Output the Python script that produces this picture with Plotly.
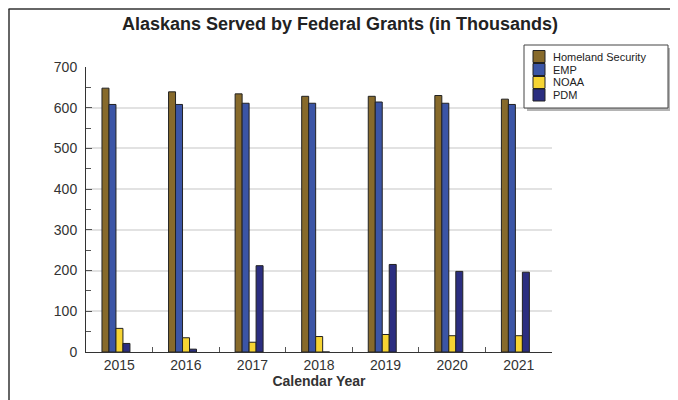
import plotly.graph_objects as go

years = ["2015", "2016", "2017", "2018", "2019", "2020", "2021"]
homeland_security = [648, 639, 634, 628, 628, 630, 621]
emp = [608, 608, 611, 611, 614, 611, 608]
noaa = [58, 35, 24, 38, 43, 40, 40]
pdm = [21, 7, 212, 0, 215, 198, 196]

series_names = ["Homeland Security", "EMP", "NOAA", "PDM"]
series_values = [homeland_security, emp, noaa, pdm]
series_colors = ["#876a2b", "#3b55a6", "#f6d433", "#2b2e80"]

BAR_W = 0.105
fig = go.Figure()
for i, (name, vals, col) in enumerate(zip(series_names, series_values, series_colors)):
    fig.add_trace(go.Bar(
        x=years, y=vals, name=name,
        width=BAR_W, offset=-0.26 + i * BAR_W,
        marker=dict(color=col, line=dict(color="#222222", width=1)),
    ))

# page has an 8px body margin, so the figure is 670x392 placed at (8,8)
W, H = 670, 392
L, R, T, B = 78, 126, 59, 48
pw, ph = W - L - R, H - T - B


def px(xpage):
    return (xpage - 8 - L) / pw


def py(ypage):
    return (H - B - (ypage - 8)) / ph


shapes = [
    # image frame (top and left edges)
    dict(type="line", xref="paper", yref="paper",
         x0=px(8.5), x1=px(678), y0=py(9), y1=py(9),
         line=dict(color="#333333", width=1.5)),
    dict(type="line", xref="paper", yref="paper",
         x0=px(9), x1=px(9), y0=py(9), y1=py(400),
         line=dict(color="#333333", width=1.5)),
    # legend shadow and box
    dict(type="rect", xref="paper", yref="paper",
         x0=px(527), x1=px(671), y0=py(111), y1=py(48),
         fillcolor="#b4b4b4", line=dict(width=0)),
    dict(type="rect", xref="paper", yref="paper",
         x0=px(524), x1=px(668), y0=py(108), y1=py(45),
         fillcolor="white", line=dict(color="#444444", width=1)),
]
annotations = []
row_centers = [56.5, 69.5, 82.5, 95.0]
for name, col, yc in zip(series_names, series_colors, row_centers):
    shapes.append(dict(type="rect", xref="paper", yref="paper",
                       x0=px(533), x1=px(545), y0=py(yc + 6), y1=py(yc - 6),
                       fillcolor=col, line=dict(color="#222222", width=1)))
    annotations.append(dict(xref="paper", yref="paper", x=px(552), y=py(yc),
                            xanchor="left", yanchor="middle", showarrow=False,
                            borderpad=0,
                            text=name, font=dict(size=11, color="#222222")))

fig.update_layout(
    width=W, height=H,
    margin=dict(l=L, r=R, t=T, b=B, autoexpand=False),
    paper_bgcolor="white", plot_bgcolor="white",
    font=dict(family="Liberation Sans, Arial, sans-serif", color="#333333", size=13),
    title=dict(text="<b>Alaskans Served by Federal Grants (in Thousands)</b>",
               x=(340 - 8) / W, xref="container", xanchor="center",
               y=1 - (24 - 8) / H, yref="container", yanchor="middle",
               font=dict(size=18, color="#222222")),
    barmode="overlay",
    showlegend=False,
    shapes=shapes,
    annotations=annotations,
    xaxis=dict(
        showline=True, linecolor="#333333", linewidth=1,
        ticks="inside", tickson="boundaries", ticklen=5, tickcolor="#555555",
        showgrid=False,
        title=dict(text="<b>Calendar Year</b>", font=dict(size=14, color="#333333"), standoff=4),
        tickfont=dict(size=14, color="#333333"),
    ),
    yaxis=dict(
        range=[0, 700], dtick=100,
        showline=True, linecolor="#333333", linewidth=1,
        ticks="inside", ticklen=6, tickcolor="#555555",
        showgrid=True, gridcolor="#e2e2e2", gridwidth=1.5,
        zeroline=False, ticklabelstandoff=5,
        minor=dict(dtick=50, ticks="inside", ticklen=5, tickcolor="#555555", showgrid=False),
        tickfont=dict(size=14, color="#333333"),
    ),
)

fig.write_html("out.html")
